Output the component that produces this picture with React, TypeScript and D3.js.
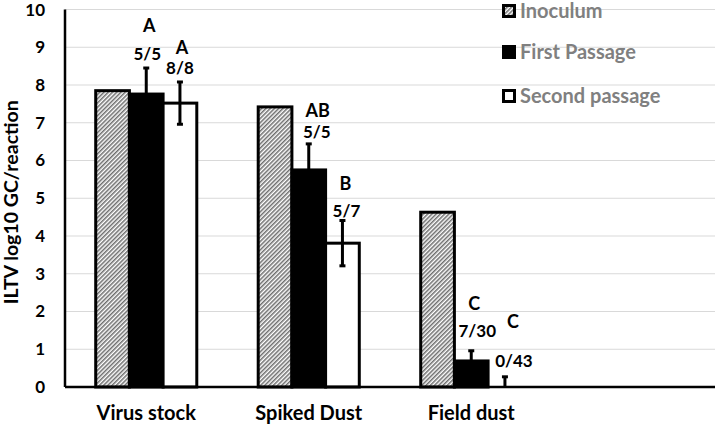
import React from "react";
import * as d3 from "d3";

// ---- data ----
const categories = ["Virus stock", "Spiked Dust", "Field dust", ""];
const seriesNames = ["Inoculum", "First Passage", "Second passage"];
const inoculum = [7.85, 7.42, 4.63];
const firstPassage = [7.76, 5.75, 0.69];
const secondPassage = [7.52, 3.81, 0];
const firstError = [0.69, 0.69, 0.27];
const secondError = [0.56, 0.6, 0.27];
const firstLetters = ["A", "AB", "C"];
const firstRatios = ["5/5", "5/5", "7/30"];
const secondLetters = ["A", "B", "C"];
const secondRatios = ["8/8", "5/7", "0/43"];
const yTicks = [0, 1, 2, 3, 4, 5, 6, 7, 8, 9, 10];

// label nudges (px, relative to error-bar top)
const firstRatioNudge = [[1, -8], [8, -6], [6, -14]];
const firstLetterNudge = [[3, -36], [9, -27], [3, -41]];
const secondRatioNudge = [[0, -8], [4, -4], [9, -10]];
const secondLetterNudge = [[2, -28], [3, -31], [8, -49]];

const W = 715;
const H = 425;
const FONT = "Lato, 'Open Sans', sans-serif";

export default function App() {
  const left = 65;
  const right = 715;
  const y = d3.scaleLinear().domain([0, 10]).range([387, 9.5]);
  const x0 = d3.scaleBand<string>().domain(categories).range([left, right]).padding(0);
  const bw = x0.bandwidth();
  const groupW = bw * 0.622;
  const x1 = d3.scaleBand<string>().domain(seriesNames).range([0, groupW]).padding(0);
  const barW = x1.bandwidth();
  const bx = (ci: number, s: string) => (x0(categories[ci]) as number) + (bw - groupW) / 2 + (x1(s) as number);

  const seriesVals = [inoculum, firstPassage, secondPassage];
  const fills = ["url(#hatch)", "#000", "#fff"];

  const errBars = [
    { vals: firstPassage, errs: firstError, s: seriesNames[1], letters: firstLetters, ratios: firstRatios, rn: firstRatioNudge, ln: firstLetterNudge },
    { vals: secondPassage, errs: secondError, s: seriesNames[2], letters: secondLetters, ratios: secondRatios, rn: secondRatioNudge, ln: secondLetterNudge },
  ];

  const legendY = [11, 52, 96];

  return (
    <svg width={W} height={H} style={{ position: "absolute", left: 0, top: 0, background: "#fff" }} fontFamily={FONT}>
      <defs>
        <pattern id="hatch" patternUnits="userSpaceOnUse" width={3} height={3} patternTransform="rotate(45)">
          <rect width={3} height={3} fill="#fff" />
          <line x1={0.8} y1={0} x2={0.8} y2={3} stroke="#555" strokeWidth={1.3} />
        </pattern>
      </defs>
      {/* gridlines */}
      {yTicks.slice(1).map((t) => (
        <line key={t} x1={left} x2={right} y1={y(t)} y2={y(t)} stroke="#d9d9d9" strokeWidth={1} />
      ))}
      {/* tick labels */}
      {yTicks.map((t) => (
        <text key={t} x={45} y={y(t) + (t === 10 ? 1 : 0)} dy="0.35em" textAnchor="end" fontSize={17} fontWeight="bold" fill="#000">
          {t}
        </text>
      ))}
      {/* y title */}
      <text transform={`translate(18,${y(5) + 4}) rotate(-90)`} textAnchor="middle" fontSize={19.5} fontWeight="bold" fill="#000">
        ILTV log10 GC/reaction
      </text>
      {/* bars */}
      {seriesVals.map((vals, si) =>
        vals.map((v, ci) => (
          <rect
            key={`${si}-${ci}`}
            x={bx(ci, seriesNames[si])}
            y={y(v)}
            width={barW}
            height={y(0) - y(v)}
            fill={fills[si]}
            stroke="#000"
            strokeWidth={3}
          />
        ))
      )}
      {/* error bars + labels */}
      {errBars.map((eb, ei) =>
        eb.vals.map((v, ci) => {
          const cx = bx(ci, eb.s) + barW / 2;
          const top = y(v + eb.errs[ci]);
          const lo = v - eb.errs[ci];
          const bot = y(Math.max(0, lo));
          return (
            <g key={`${ei}-${ci}`}>
              <line x1={cx} x2={cx} y1={top} y2={bot} stroke="#000" strokeWidth={3} />
              <line x1={cx - 3} x2={cx + 3} y1={top} y2={top} stroke="#000" strokeWidth={3} />
              {lo > 0 && <line x1={cx - 3} x2={cx + 3} y1={bot} y2={bot} stroke="#000" strokeWidth={3} />}
              <text x={cx + eb.rn[ci][0]} y={top + eb.rn[ci][1]} textAnchor="middle" fontSize={17} fontWeight="bold" fill="#000">
                {eb.ratios[ci]}
              </text>
              <text x={cx + eb.ln[ci][0]} y={top + eb.ln[ci][1]} textAnchor="middle" fontSize={18} fontWeight="bold" fill="#000">
                {eb.letters[ci]}
              </text>
            </g>
          );
        })
      )}
      {/* axes */}
      <line x1={left} x2={left} y1={y(10)} y2={y(0)} stroke="#000" strokeWidth={2.5} />
      <line x1={left} x2={right} y1={y(0)} y2={y(0)} stroke="#000" strokeWidth={2.5} />
      {/* category labels */}
      {categories.map((c) => (
        <text key={c} x={(x0(c) as number) + bw / 2} y={420} textAnchor="middle" fontSize={20} fontWeight="bold" fill="#000">
          {c}
        </text>
      ))}
      {/* legend */}
      {seriesNames.map((s, i) => (
        <g key={s}>
          <rect x={503.5} y={legendY[i] - 5.5} width={11} height={11} fill={fills[i]} stroke="#000" strokeWidth={3} />
          <text x={520} y={legendY[i]} dy="0.35em" fontSize={20} fontWeight="bold" fill="#808080">
            {s}
          </text>
        </g>
      ))}
    </svg>
  );
}
